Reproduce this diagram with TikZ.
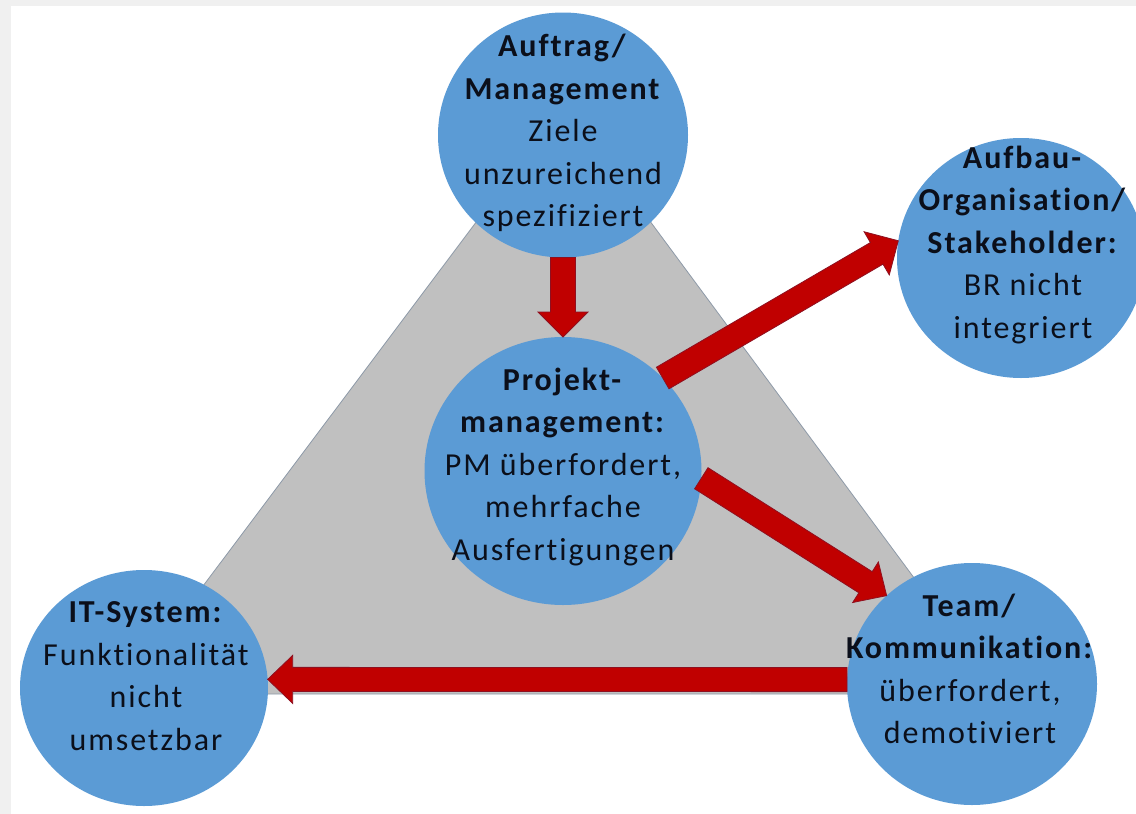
\documentclass[tikz,border=0pt]{standalone}
\usepackage{fontspec}
\setmainfont{Carlito}[LetterSpace=6, Ligatures=CommonOff]
\usetikzlibrary{shapes.geometric,calc}

\definecolor{pageGrey}{HTML}{F0F0F0}
\definecolor{bubbleBlue}{HTML}{5B9BD5}
\definecolor{triGrey}{HTML}{C0C0C0}
\definecolor{triEdge}{HTML}{8E9AA8}
\definecolor{arrowRed}{HTML}{C00000}
\definecolor{arrowEdge}{HTML}{8E1020}
\definecolor{inkDark}{HTML}{0B0F1A}

\tikzset{
  bubble/.style={ellipse, fill=bubbleBlue, draw=none, inner sep=0pt, outer sep=0pt},
  txt/.style={align=center, text=inkDark, inner sep=0pt,
    font=\fontsize{32}{42.5}\selectfont},
  redarrow/.style={fill=arrowRed, draw=arrowEdge, line width=0.8pt, line join=miter},
}

% block arrow from tail #1 to tip #2: half shaft width #3, half head width #4, head length #5
\newcommand{\blockarrow}[5]{%
  \path (#1) coordinate (ba-s) (#2) coordinate (ba-e)
        ($(ba-e)!#5!(ba-s)$) coordinate (ba-h);
  \filldraw[redarrow]
    ($(ba-s)!#3!90:(ba-e)$) -- ($(ba-h)!#3!90:(ba-e)$) --
    ($(ba-h)!#4!90:(ba-e)$) -- (ba-e) --
    ($(ba-h)!#4!-90:(ba-e)$) -- ($(ba-h)!#3!-90:(ba-e)$) --
    ($(ba-s)!#3!-90:(ba-e)$) -- cycle;
}

\begin{document}
\begin{tikzpicture}[x=1pt, y=-1pt]
  % page
  \useasboundingbox (0,0) rectangle (1136,814);
  \fill[pageGrey] (0,0) rectangle (1136,814);
  \fill[white] (11,6) rectangle (1136,814);

  % grey triangle behind the bubbles
  \filldraw[fill=triGrey, draw=triEdge, line width=0.8pt]
    (564,105) -- (122,694) -- (1000,694) -- cycle;

  % bubbles
  \node[bubble, minimum width=250pt, minimum height=245pt] (auftrag) at (563,135) {};
  \node[bubble, minimum width=277pt, minimum height=268pt] (pm) at (563,471) {};
  \node[bubble, minimum width=248pt, minimum height=240pt] (aufbau) at (1021,258) {};
  \node[bubble, minimum width=250pt, minimum height=242pt] (team) at (972,684) {};
  \node[bubble, minimum width=248pt, minimum height=236pt] (it) at (144,688) {};

  % connectors
  \blockarrow{auftrag.south}{pm.north}{12.5pt}{25pt}{25pt}
  \blockarrow{pm.43}{aufbau.172}{12.5pt}{25pt}{25pt}
  \blockarrow{pm.-3}{team.134}{12.5pt}{24pt}{25pt}
  \blockarrow{team.178}{it.4}{12pt}{24pt}{25pt}

  % texts
  \node[txt] (auftrag-t) at (563,133)
    {\textbf{Auftrag/}\\\textbf{Management}\\Ziele\\unzureichend\\spezifiziert};
  \node[txt] (pm-t) at (563,467)
    {\textbf{Projekt-}\\\textbf{management:}\\PM überfordert,\\mehrfache\\Ausfertigungen};
  \node[txt] (aufbau-t) at (1023,245)
    {\textbf{Aufbau-}\\\textbf{Organisation/}\\\textbf{Stakeholder:}\\BR nicht\\integriert};
  \node[txt] (team-t) at (970,669)
    {\textbf{Team/}\\\textbf{Kommunikation:}\\überfordert,\\demotiviert};
  \node[txt] (it-t) at (146,676)
    {\textbf{IT-System:}\\Funktionalität\\nicht\\umsetzbar};
\end{tikzpicture}
\end{document}
